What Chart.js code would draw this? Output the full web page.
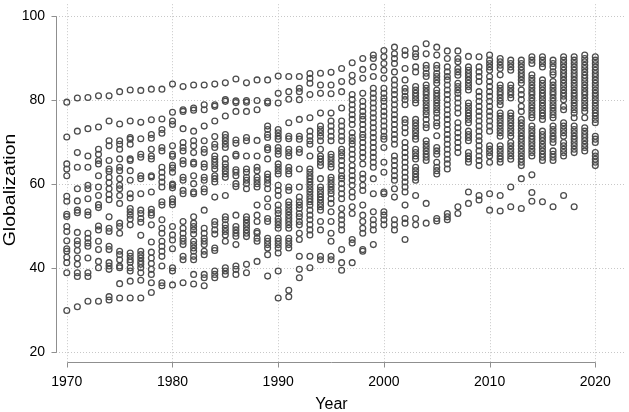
<!DOCTYPE html>
<html>
<head>
<meta charset="utf-8">
<script src="https://cdn.jsdelivr.net/npm/chart.js@4.4.1/dist/chart.umd.min.js"></script>
<style>
  html, body { margin: 0; padding: 0; background: #fff; }
  #wrap { width: 629px; height: 412px; }
</style>
</head>
<body>
<div id="wrap"><canvas id="globChart" width="629" height="412"></canvas></div>
<script>
'use strict';

// ------------------------------------------------------------
// DATA (one row per year)
// ------------------------------------------------------------
const years = [1970, 1971, 1972, 1973, 1974, 1975, 1976, 1977, 1978, 1979,
               1980, 1981, 1982, 1983, 1984, 1985, 1986, 1987, 1988, 1989,
               1990, 1991, 1992, 1993, 1994, 1995, 1996, 1997, 1998, 1999,
               2000, 2001, 2002, 2003, 2004, 2005, 2006, 2007, 2008, 2009,
               2010, 2011, 2012, 2013, 2014, 2015, 2016, 2017, 2018, 2019,
               2020];
const xTicks = [1970, 1980, 1990, 2000, 2010, 2020];
const yTicks = [20, 40, 60, 80, 100];

const glob1970s = [
  [79.5, 71.2, 64.8, 63.6, 62.0, 57.1, 55.9, 52.8, 52.3, 49.9, 48.7, 46.5, 44.6, 44.0, 42.6, 41.3, 38.9, 29.9],
  [80.5, 72.6, 67.5, 64.0, 58.9, 56.0, 53.8, 53.2, 48.5, 46.5, 45.6, 44.2, 42.4, 40.9, 38.9, 38.0, 30.8],
  [80.6, 73.2, 66.7, 64.0, 59.7, 58.9, 56.5, 53.4, 52.6, 48.3, 47.1, 46.0, 45.2, 42.4, 38.9, 38.0, 32.1],
  [81.0, 73.6, 68.3, 67.1, 65.6, 64.8, 62.0, 59.3, 57.3, 55.1, 54.4, 50.0, 49.1, 46.4, 44.4, 41.6, 40.1, 32.1],
  [81.0, 75.0, 70.3, 69.1, 65.6, 63.6, 63.0, 61.6, 60.3, 58.9, 57.5, 56.3, 52.2, 49.5, 48.7, 45.2, 44.4, 41.3, 40.5, 39.7, 33.2, 32.4],
  [82.0, 74.3, 70.3, 69.5, 68.3, 66.0, 64.0, 63.2, 61.3, 59.7, 58.9, 57.3, 55.4, 50.7, 49.9, 48.3, 44.0, 43.2, 42.0, 40.5, 40.1, 36.3, 32.9],
  [82.4, 75.0, 71.1, 70.7, 69.5, 66.0, 65.6, 63.2, 60.9, 57.7, 56.7, 54.2, 53.4, 52.6, 51.7, 50.3, 43.6, 42.8, 42.0, 41.4, 40.1, 39.3, 36.9, 32.9],
  [82.3, 74.7, 70.8, 67.1, 66.4, 62.0, 61.3, 57.7, 53.8, 53.0, 51.8, 50.9, 47.8, 44.0, 43.2, 42.4, 41.6, 40.9, 40.1, 38.9, 37.1, 32.9],
  [82.6, 75.3, 71.8, 70.9, 68.3, 66.7, 66.0, 62.0, 61.7, 58.1, 54.0, 53.2, 52.6, 50.3, 46.2, 43.8, 42.4, 41.1, 39.7, 38.5, 36.5, 34.2],
  [82.6, 75.5, 73.0, 72.1, 68.7, 67.9, 64.0, 62.8, 61.6, 60.5, 59.3, 55.8, 55.0, 51.5, 49.5, 48.3, 46.4, 45.2, 44.0, 42.8, 40.5, 36.5, 35.8]
];
const glob1980s = [
  [83.8, 77.1, 75.0, 74.2, 69.1, 67.1, 66.6, 64.5, 63.8, 62.8, 60.0, 59.7, 59.1, 56.5, 55.8, 55.1, 49.9, 47.9, 46.7, 44.6, 40.1, 39.3, 36.0],
  [83.2, 77.7, 77.3, 73.2, 69.9, 68.7, 67.9, 65.6, 64.8, 61.6, 60.9, 58.5, 57.7, 51.1, 49.5, 48.3, 47.1, 46.4, 45.6, 42.8, 42.0, 36.5],
  [83.6, 78.1, 77.6, 72.6, 70.3, 69.1, 67.5, 65.2, 64.8, 62.0, 60.1, 58.1, 57.7, 52.2, 50.7, 49.9, 49.1, 48.1, 46.4, 45.6, 44.8, 44.0, 42.8, 42.0, 38.5, 36.2],
  [83.6, 78.9, 77.7, 73.8, 70.3, 68.3, 67.5, 64.8, 64.0, 61.6, 60.9, 58.9, 58.1, 53.8, 49.5, 48.3, 47.1, 46.4, 45.6, 44.0, 43.2, 38.5, 37.7, 35.8],
  [83.8, 78.9, 78.5, 75.0, 71.3, 69.5, 68.7, 66.7, 65.9, 65.2, 64.4, 63.6, 62.0, 61.3, 60.5, 56.9, 51.1, 50.3, 49.1, 48.1, 44.8, 44.2, 39.3, 38.5, 37.7],
  [84.1, 80.1, 79.7, 76.2, 71.8, 71.1, 70.3, 69.5, 68.7, 66.0, 64.8, 64.0, 63.2, 62.4, 61.6, 57.3, 52.2, 51.5, 50.3, 49.5, 48.7, 47.9, 46.4, 40.1, 39.3, 38.5],
  [85.0, 79.8, 79.4, 77.3, 70.5, 69.7, 67.1, 66.7, 63.4, 62.8, 62.0, 60.1, 59.4, 52.6, 49.9, 49.1, 48.3, 47.6, 45.6, 40.5, 39.7, 38.5],
  [84.1, 79.9, 79.5, 77.3, 71.1, 70.3, 66.7, 63.6, 62.8, 61.6, 60.9, 60.1, 58.9, 52.2, 51.5, 50.7, 49.9, 49.1, 48.3, 47.5, 40.9, 38.9],
  [84.8, 79.9, 77.7, 70.4, 66.7, 64.0, 63.2, 61.6, 60.9, 60.1, 59.3, 55.0, 52.6, 51.1, 48.7, 48.3, 47.1, 46.4, 41.6],
  [84.8, 79.7, 79.3, 73.8, 73.0, 71.8, 71.1, 68.7, 68.2, 66.0, 62.4, 61.6, 60.9, 60.1, 58.9, 56.5, 54.6, 51.8, 51.1, 47.1, 46.4, 45.6, 44.8, 43.2, 38.1]
];
const glob1990s = [
  [85.7, 81.6, 79.3, 73.0, 72.2, 71.4, 70.7, 68.7, 67.9, 67.1, 64.8, 64.0, 63.2, 62.4, 59.7, 58.5, 57.3, 55.0, 53.8, 53.0, 51.8, 51.1, 50.3, 49.5, 47.1, 46.4, 45.6, 44.8, 43.6, 39.3, 32.9],
  [85.6, 82.0, 80.2, 74.6, 71.4, 70.8, 68.3, 67.5, 66.7, 64.0, 63.2, 62.4, 59.3, 58.5, 55.8, 55.0, 54.2, 53.4, 52.6, 51.8, 51.1, 50.3, 49.5, 47.1, 46.4, 45.6, 44.8, 34.7, 33.2],
  [85.6, 82.8, 82.0, 80.1, 75.4, 71.4, 70.7, 68.3, 67.5, 63.6, 59.3, 56.9, 55.8, 55.0, 54.2, 53.0, 52.2, 51.1, 50.3, 48.3, 46.8, 42.8, 39.7, 37.7],
  [86.3, 85.2, 84.0, 81.3, 75.8, 72.6, 71.4, 70.3, 69.5, 66.7, 63.6, 62.8, 62.0, 61.3, 60.5, 59.7, 58.9, 58.1, 57.3, 56.5, 55.8, 55.0, 53.8, 52.6, 51.5, 50.3, 49.1, 47.9, 42.8, 40.1],
  [86.4, 83.6, 81.6, 76.9, 73.8, 73.0, 72.2, 71.4, 70.3, 68.3, 66.7, 66.0, 65.2, 64.4, 61.3, 59.3, 58.5, 57.7, 56.9, 56.2, 55.4, 54.6, 53.8, 51.1, 49.1, 42.8, 42.0],
  [86.6, 83.6, 81.5, 76.9, 75.0, 73.8, 72.6, 71.4, 70.3, 67.1, 66.4, 65.6, 64.8, 64.0, 61.6, 60.9, 60.1, 59.3, 58.5, 57.7, 56.5, 55.4, 53.4, 51.1, 48.3, 46.4, 42.8, 42.0],
  [87.5, 84.4, 82.0, 78.1, 75.0, 73.8, 72.6, 71.4, 70.3, 68.3, 67.5, 66.7, 65.6, 64.4, 63.2, 62.0, 61.3, 60.1, 58.9, 57.7, 56.5, 54.2, 52.6, 51.5, 50.3, 49.1, 44.4, 41.3, 39.5],
  [88.9, 85.9, 84.4, 81.3, 80.1, 78.9, 77.7, 76.5, 75.4, 74.2, 72.2, 71.1, 70.3, 69.5, 68.3, 67.1, 65.9, 64.4, 63.2, 62.0, 60.9, 59.7, 58.1, 56.9, 54.6, 53.0, 46.8, 46.0, 41.3],
  [89.9, 87.3, 85.2, 81.6, 79.7, 78.5, 77.3, 76.2, 75.4, 74.2, 73.0, 71.8, 71.1, 69.9, 68.7, 67.5, 66.4, 64.8, 62.4, 61.3, 59.7, 58.5, 55.0, 52.6, 51.1, 49.5, 48.3, 44.4, 44.0],
  [90.7, 89.9, 87.9, 85.6, 82.8, 81.6, 80.5, 79.3, 78.1, 76.9, 75.8, 74.6, 73.4, 72.2, 71.1, 69.9, 68.7, 67.5, 66.4, 65.2, 64.0, 61.3, 57.7, 53.4, 51.5, 50.3, 49.1, 45.6]
];
const glob2000s = [
  [91.8, 90.3, 88.7, 87.1, 85.2, 82.8, 81.6, 80.5, 79.7, 78.5, 77.3, 76.2, 75.0, 73.8, 72.6, 71.4, 70.7, 68.7, 65.2, 62.8, 58.1, 57.7, 53.4, 52.6, 51.5, 50.3],
  [92.6, 91.0, 89.9, 88.7, 86.7, 84.8, 83.6, 82.4, 81.3, 80.1, 78.9, 77.7, 76.5, 75.4, 74.2, 73.0, 71.8, 70.7, 69.5, 66.7, 65.6, 64.4, 63.2, 62.0, 60.9, 58.9, 56.9, 51.5, 50.3, 49.1],
  [91.8, 90.7, 87.5, 84.8, 82.8, 82.0, 80.9, 80.1, 78.9, 75.4, 74.6, 73.4, 72.2, 69.9, 68.7, 67.5, 66.4, 65.2, 64.0, 62.8, 61.6, 60.5, 59.3, 58.1, 55.0, 51.8, 50.7, 46.8],
  [92.2, 91.0, 90.3, 87.9, 86.7, 83.2, 82.4, 81.6, 80.9, 80.1, 79.3, 75.4, 74.6, 73.8, 73.0, 72.2, 71.4, 70.7, 68.3, 67.5, 66.7, 66.0, 64.0, 63.2, 62.4, 61.6, 60.9, 57.3, 51.8, 50.3],
  [93.4, 91.0, 88.3, 87.5, 86.4, 85.6, 83.6, 82.8, 82.0, 81.3, 80.5, 79.7, 78.9, 78.1, 77.3, 76.5, 75.4, 74.2, 73.4, 70.3, 69.5, 68.7, 67.9, 67.1, 66.4, 65.6, 55.4, 50.7],
  [92.6, 90.7, 88.3, 87.5, 86.4, 85.6, 84.8, 84.0, 82.4, 81.6, 80.9, 80.1, 79.3, 78.5, 77.7, 76.9, 75.8, 74.6, 73.8, 71.5, 68.7, 67.9, 67.1, 65.2, 64.0, 63.2, 62.4, 51.8, 51.2],
  [91.7, 89.9, 87.9, 86.7, 85.6, 84.8, 83.6, 82.4, 81.3, 80.1, 78.9, 77.7, 76.5, 75.4, 74.2, 73.0, 71.8, 70.7, 69.5, 68.3, 67.1, 65.9, 64.8, 63.6, 53.0, 52.2, 51.5],
  [91.7, 89.9, 89.1, 87.5, 86.7, 85.9, 84.0, 83.2, 82.4, 81.6, 80.5, 79.3, 78.1, 76.9, 74.6, 73.4, 72.2, 71.1, 69.9, 68.7, 67.5, 54.6, 53.0],
  [90.4, 87.9, 87.1, 86.3, 85.6, 84.8, 84.0, 83.2, 82.4, 79.3, 78.5, 77.7, 76.9, 76.2, 75.4, 74.6, 72.6, 71.8, 71.1, 70.3, 67.5, 66.7, 66.0, 65.2, 58.1, 55.4],
  [90.3, 87.9, 86.7, 85.6, 84.4, 82.0, 80.9, 79.7, 78.5, 77.3, 76.2, 75.0, 73.8, 72.6, 71.4, 70.3, 69.1, 67.9, 66.7, 65.6, 64.4, 57.3, 56.2]
];
const glob2010s = [
  [90.7, 89.5, 88.7, 87.9, 87.1, 85.6, 84.4, 83.2, 82.0, 80.9, 79.7, 78.5, 77.3, 76.2, 75.0, 73.8, 72.6, 69.1, 68.3, 67.5, 66.7, 65.2, 57.7, 53.8],
  [89.9, 89.1, 88.3, 87.5, 86.0, 83.6, 82.8, 82.0, 81.3, 80.5, 79.7, 78.9, 76.9, 76.2, 75.4, 74.6, 73.8, 73.0, 72.2, 71.4, 69.1, 68.3, 67.5, 66.7, 66.0, 65.2, 57.3, 53.6],
  [89.5, 88.7, 87.9, 87.1, 83.6, 82.8, 82.0, 81.3, 80.5, 76.9, 76.2, 75.4, 74.6, 73.8, 73.0, 72.2, 71.4, 69.9, 69.1, 68.3, 67.5, 66.7, 65.9, 59.3, 54.6],
  [89.5, 88.7, 87.9, 87.1, 86.3, 85.6, 84.8, 84.0, 82.4, 81.3, 80.1, 78.5, 77.3, 75.4, 74.6, 73.8, 73.0, 72.2, 71.4, 70.7, 69.9, 69.1, 68.3, 67.5, 66.7, 65.9, 65.2, 64.4, 61.3, 54.2],
  [90.3, 89.5, 88.7, 86.0, 85.2, 84.4, 83.6, 82.8, 82.0, 81.3, 80.5, 79.7, 78.9, 78.1, 77.3, 76.5, 75.8, 73.8, 73.0, 72.2, 71.4, 70.7, 69.9, 69.1, 68.3, 67.5, 66.7, 62.2, 58.0, 55.9],
  [90.3, 89.5, 88.7, 87.9, 84.8, 84.0, 83.2, 82.4, 81.6, 80.9, 80.1, 79.3, 78.5, 77.7, 76.9, 76.2, 75.4, 72.6, 71.8, 71.1, 70.3, 69.5, 68.7, 67.9, 67.1, 66.4, 65.6, 55.8],
  [89.5, 88.7, 87.9, 86.7, 86.0, 84.4, 83.6, 82.8, 82.0, 81.3, 80.5, 79.7, 78.9, 78.1, 77.3, 76.5, 75.8, 73.8, 73.0, 72.2, 71.4, 70.7, 69.9, 67.9, 67.1, 66.4, 65.6, 54.6],
  [90.3, 89.5, 88.7, 87.9, 87.1, 86.3, 85.6, 84.8, 84.0, 83.2, 82.4, 81.6, 80.9, 80.1, 78.5, 77.7, 74.6, 73.8, 73.0, 72.2, 71.4, 69.9, 69.1, 68.3, 67.5, 66.7, 57.3],
  [90.3, 89.5, 88.7, 87.9, 87.1, 86.3, 85.6, 84.8, 84.0, 83.2, 82.4, 81.6, 80.9, 80.1, 79.3, 78.5, 77.7, 76.9, 75.8, 73.8, 73.0, 72.2, 71.4, 70.7, 69.9, 69.1, 68.3, 67.5, 54.6],
  [90.7, 89.9, 89.1, 88.3, 87.5, 86.7, 85.9, 85.2, 84.4, 83.6, 82.8, 82.0, 81.3, 80.5, 79.7, 78.9, 78.1, 77.3, 75.8, 73.4, 72.6, 71.8, 71.1, 70.3, 69.5, 68.7, 67.9]
];
const glob2020 = [
  [90.3, 89.5, 88.7, 87.9, 87.1, 86.3, 85.6, 84.8, 84.0, 83.2, 82.4, 81.6, 80.9, 80.1, 79.3, 78.5, 77.7, 76.9, 76.2, 75.4, 74.6, 71.4, 70.7, 69.9, 67.5, 66.7, 65.9, 65.2, 64.4]
];

const globByYear = [].concat(glob1970s, glob1980s, glob1990s, glob2000s, glob2010s, glob2020);
const points = [];
years.forEach((yr, i) => globByYear[i].forEach(v => points.push({ x: yr, y: v })));

// ------------------------------------------------------------
// LOOK
// ------------------------------------------------------------
const FONT = '"Liberation Sans", Arial, Helvetica, sans-serif';
const AXIS_COLOR = '#8f8f8f';
const GRID_COLOR = '#c8c8c8';
const MARK_COLOR = '#4d4d4d';

Chart.defaults.font.family = FONT;
Chart.defaults.color = '#000';

// Stata-like frame: dotted grid, axis lines only over the tick range, titles
const stataFrame = {
  id: 'stataFrame',
  beforeDatasetsDraw(chart) {
    const { ctx, chartArea: a, scales: { x, y } } = chart;
    ctx.save();
    ctx.strokeStyle = GRID_COLOR;
    ctx.lineWidth = 1;
    ctx.setLineDash([1, 2]);
    yTicks.forEach(v => {
      const py = Math.round(y.getPixelForValue(v)) + 0.5;
      ctx.beginPath(); ctx.moveTo(a.left, py); ctx.lineTo(a.right, py); ctx.stroke();
    });
    xTicks.forEach(v => {
      const px = Math.round(x.getPixelForValue(v)) + 0.5;
      ctx.beginPath(); ctx.moveTo(px, a.top); ctx.lineTo(px, a.bottom); ctx.stroke();
    });
    ctx.restore();
  },
  afterDraw(chart) {
    const { ctx, chartArea: a, scales: { x, y } } = chart;
    ctx.save();
    ctx.strokeStyle = AXIS_COLOR;
    ctx.lineWidth = 1;
    // y axis
    const ax = a.left + 0.5;
    const yTop = Math.round(y.getPixelForValue(yTicks[yTicks.length - 1])) + 0.5;
    const yBot = Math.round(y.getPixelForValue(yTicks[0])) + 0.5;
    ctx.beginPath(); ctx.moveTo(ax, yTop); ctx.lineTo(ax, yBot); ctx.stroke();
    yTicks.forEach(v => {
      const py = Math.round(y.getPixelForValue(v)) + 0.5;
      ctx.beginPath(); ctx.moveTo(ax - 5, py); ctx.lineTo(ax, py); ctx.stroke();
    });
    // x axis
    const ay = a.bottom + 0.5;
    const xL = Math.round(x.getPixelForValue(xTicks[0])) + 0.5;
    const xR = Math.round(x.getPixelForValue(xTicks[xTicks.length - 1])) + 0.5;
    ctx.beginPath(); ctx.moveTo(xL, ay); ctx.lineTo(xR, ay); ctx.stroke();
    xTicks.forEach(v => {
      const px = Math.round(x.getPixelForValue(v)) + 0.5;
      ctx.beginPath(); ctx.moveTo(px, ay); ctx.lineTo(px, ay + 5); ctx.stroke();
    });
    // titles
    ctx.fillStyle = '#000';
    ctx.textAlign = 'center';
    ctx.textBaseline = 'alphabetic';
    ctx.font = '16px ' + FONT;
    ctx.fillText('Year', (xL + xR) / 2, 409);
    ctx.translate(15, 190);
    ctx.rotate(-Math.PI / 2);
    ctx.scale(1, 0.88);
    ctx.font = '19.5px ' + FONT;
    ctx.fillText('Globalization', 0, 0);
    ctx.restore();
  }
};

function zeroPad(s) { s.paddingTop = 0; s.paddingBottom = 0; s.paddingLeft = 0; s.paddingRight = 0; }

new Chart(document.getElementById('globChart'), {
  type: 'scatter',
  data: {
    datasets: [{
      label: 'Globalization',
      data: points,
      pointStyle: 'circle',
      pointRadius: 2.9,
      pointHoverRadius: 2.9,
      pointBorderWidth: 1.3,
      borderColor: MARK_COLOR,
      backgroundColor: 'rgba(0,0,0,0)',
    }]
  },
  options: {
    responsive: false,
    devicePixelRatio: 1,
    animation: false,
    events: [],
    layout: { padding: 0 },
    plugins: { legend: { display: false }, tooltip: { enabled: false } },
    scales: {
      x: {
        type: 'linear',
        min: 1968.98, max: 2022.79,
        afterBuildTicks: s => { s.ticks = xTicks.map(v => ({ value: v })); },
        afterFit: s => { s.height = 50; zeroPad(s); },
        grid: { display: false, drawTicks: false },
        border: { display: false },
        ticks: { padding: 12, font: { size: 14 }, color: '#000', maxRotation: 0, autoSkip: false, callback: v => String(v) }
      },
      y: {
        type: 'linear',
        min: 17.65, max: 102.82,
        afterBuildTicks: s => { s.ticks = yTicks.map(v => ({ value: v })); },
        afterFit: s => { s.width = 56; zeroPad(s); },
        grid: { display: false, drawTicks: false },
        border: { display: false },
        ticks: { padding: 11, font: { size: 14 }, color: '#000', autoSkip: false, callback: v => String(v) }
      }
    }
  },
  plugins: [stataFrame]
});
</script>
</body>
</html>
